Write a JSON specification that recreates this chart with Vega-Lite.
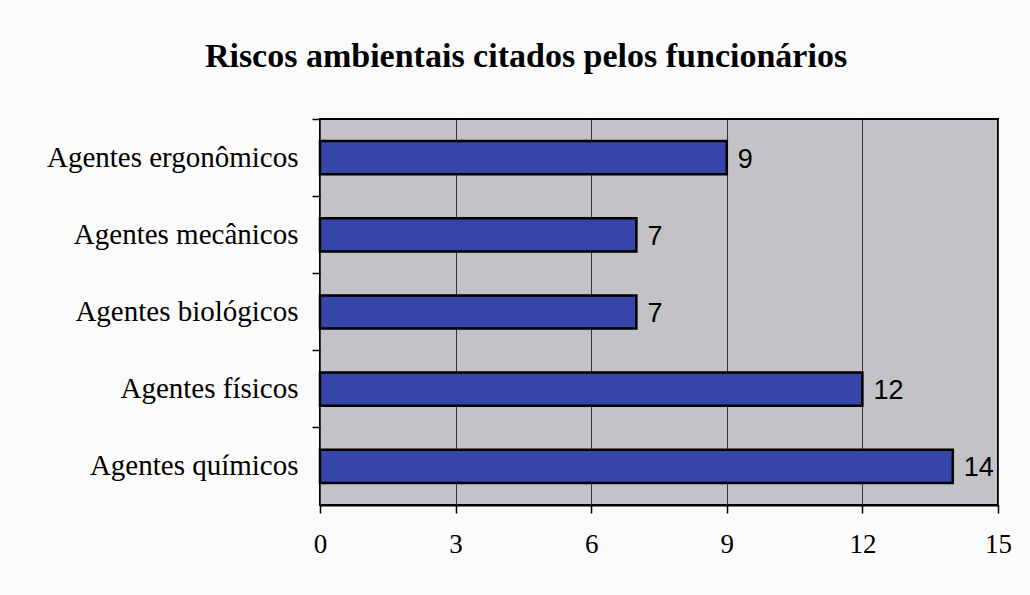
{
  "$schema": "https://vega.github.io/schema/vega-lite/v6.json",
  "width": 678,
  "height": 386,
  "autosize": {"type": "none"},
  "padding": {"left": 320, "top": 119, "right": 32, "bottom": 90},
  "background": "#fbfbfb",
  "title": {
    "text": "Riscos ambientais citados pelos funcionários",
    "font": "Liberation Serif",
    "fontSize": 34,
    "fontWeight": "bold",
    "color": "#000000",
    "anchor": "middle",
    "frame": "group",
    "baseline": "alphabetic",
    "offset": 17,
    "dx": -133
  },
  "config": {
    "view": {"fill": "#c3c3c7", "stroke": "#000000", "strokeWidth": 2}
  },
  "data": {
    "values": [
      {"categoria": "Agentes ergonômicos", "valor": 9},
      {"categoria": "Agentes mecânicos", "valor": 7},
      {"categoria": "Agentes biológicos", "valor": 7},
      {"categoria": "Agentes físicos", "valor": 12},
      {"categoria": "Agentes químicos", "valor": 14}
    ]
  },
  "encoding": {
    "y": {
      "field": "categoria",
      "type": "nominal",
      "sort": ["Agentes ergonômicos", "Agentes mecânicos", "Agentes biológicos", "Agentes físicos", "Agentes químicos"],
      "scale": {"padding": 0},
      "axis": {
        "title": null,
        "bandPosition": 0,
        "grid": false,
        "domain": false,
        "ticks": true,
        "tickSize": 8,
        "tickColor": "#000000",
        "tickWidth": 1.5,
        "labelFont": "Liberation Serif",
        "labelFontSize": 29,
        "labelColor": "#000000",
        "labelPadding": 14,
        "labelLimit": 0
      }
    },
    "x": {
      "field": "valor",
      "type": "quantitative",
      "scale": {"domain": [0, 15], "nice": false},
      "axis": {
        "title": null,
        "values": [0, 3, 6, 9, 12, 15],
        "grid": true,
        "gridColor": "#333333",
        "gridWidth": 1,
        "gridOpacity": 1,
        "domain": true,
        "domainColor": "#000000",
        "domainWidth": 2,
        "ticks": true,
        "tickSize": 8,
        "tickColor": "#000000",
        "tickWidth": 1.5,
        "labelFont": "Liberation Serif",
        "labelFontSize": 27,
        "labelColor": "#000000",
        "labelPadding": 18,
        "labelFlush": false
      }
    }
  },
  "layer": [
    {
      "mark": {
        "type": "bar",
        "height": {"band": 0.43},
        "fill": "#3646a8",
        "stroke": "#000000",
        "strokeWidth": 2.5
      }
    },
    {
      "mark": {
        "type": "text",
        "align": "left",
        "baseline": "middle",
        "dx": 11,
        "dy": 2,
        "font": "Liberation Sans",
        "fontSize": 27,
        "color": "#000000"
      },
      "encoding": {"text": {"field": "valor", "type": "quantitative"}}
    }
  ]
}
